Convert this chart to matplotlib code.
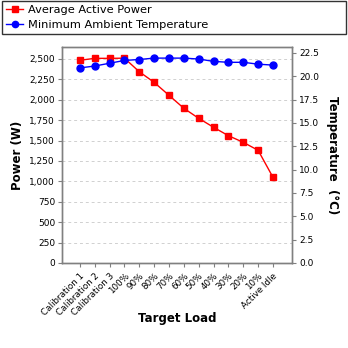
import matplotlib
matplotlib.use("Agg")
import matplotlib.pyplot as plt
from matplotlib.ticker import FuncFormatter, MultipleLocator

categories = ["Calibration 1", "Calibration 2", "Calibration 3", "100%", "90%", "80%",
              "70%", "60%", "50%", "40%", "30%", "20%", "10%", "Active Idle"]
power = [2484, 2508, 2508, 2510, 2344, 2214, 2055, 1896, 1773, 1663, 1560, 1479, 1381, 1050]
temperature = [20.9, 21.1, 21.4, 21.7, 21.8, 21.95, 21.95, 21.95, 21.85, 21.6, 21.5, 21.5, 21.3, 21.2]

plt.rcParams['font.family'] = ['DejaVu Sans']

fig = plt.figure(figsize=(3.48, 3.48), dpi=100)
ax = fig.add_axes([62 / 348, 85 / 348, 230 / 348, 216 / 348])
ax2 = ax.twinx()

x = list(range(len(categories)))
l1, = ax.plot(x, power, color='#ff0000', marker='s', markersize=4.6, linewidth=1,
              label='Average Active Power', zorder=3)
l2, = ax2.plot(x, temperature, color='#0000ff', marker='o', markersize=5, linewidth=1,
               label='Minimum Ambient Temperature', zorder=3)

ax.set_xlim(-1.2, 14.28)
ax.set_ylim(0, 2647)
ax2.set_ylim(0, 23.14)

ax.yaxis.set_major_locator(MultipleLocator(250))
ax.yaxis.set_major_formatter(FuncFormatter(lambda v, p: f"{int(v):,}"))
ax2.yaxis.set_major_locator(MultipleLocator(2.5))
ax2.yaxis.set_major_formatter(FuncFormatter(lambda v, p: f"{v:.1f}"))

ax.set_xticks(x)
ax.set_xticklabels(categories, rotation=45, ha='right', rotation_mode='anchor', fontsize=6.3)
ax.tick_params(axis='both', labelsize=6.5, length=3, color='#808080', pad=2)
ax.tick_params(axis='x', labelsize=6.3, pad=3)
ax2.tick_params(axis='y', labelsize=6.5, length=3, color='#808080', pad=2)

ax.grid(axis='y', color='#d0d0d0', linestyle=(0, (3, 3)), linewidth=0.7)
ax.set_axisbelow(True)
for a in (ax, ax2):
    for s in a.spines.values():
        s.set_color('#808080')
        s.set_linewidth(1)

ax.set_ylabel('Power (W)', fontsize=8.5, fontweight='bold', labelpad=4)
ax2.set_ylabel('Temperature  (°C)', fontsize=8.5, fontweight='bold', rotation=-90,
               labelpad=14)
ax.set_xlabel('Target Load', fontsize=8.5, fontweight='bold')
ax.xaxis.set_label_coords(0.5, -0.255)
ax.xaxis.label.set_va('center')

leg = fig.legend(handles=[l1, l2], loc='upper left',
                 mode='expand', ncol=1, fontsize=8.2, frameon=True, fancybox=False,
                 borderaxespad=0, handlelength=1.5, handletextpad=0.4,
                 labelspacing=0.45, borderpad=0.35, markerscale=0.9)
leg.set_bbox_to_anchor((2 / 348, 1 - 42 / 348, 344 / 348, 41 / 348), transform=fig.transFigure)
leg.get_frame().set_edgecolor('black')
leg.get_frame().set_linewidth(1)

fig.savefig('out.png', dpi=100)
